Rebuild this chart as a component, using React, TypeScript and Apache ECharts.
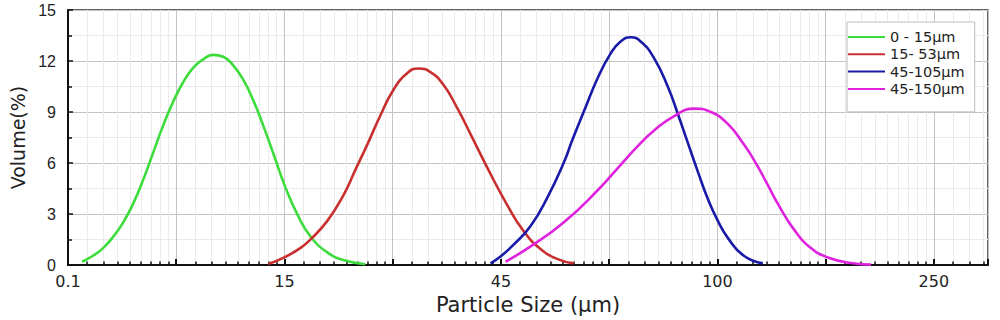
import React, { useEffect, useRef } from "react";
import * as echarts from "echarts";

// x positions are given in axis steps (one step = one major grid interval)
const TICK_LABELS = ["0.1", "15", "45", "100", "250"]; // at steps 0,2,4,6,8
const X_STEPS_MAX = 8.5;
const BASE = 2.8;

const fineX = [0.13, 0.231, 0.324, 0.416, 0.509, 0.601, 0.694, 0.786, 0.879, 0.971, 1.064, 1.156, 1.249, 1.341, 1.434, 1.526, 1.619, 1.711, 1.804, 1.906, 2.007, 2.118, 2.239, 2.396, 2.544, 2.747];
const fineY = [0.2, 0.55, 1.0, 1.65, 2.5, 3.6, 5.0, 6.6, 8.2, 9.6, 10.75, 11.6, 12.1, 12.36, 12.25, 11.75, 10.9, 9.7, 8.2, 6.4, 4.6, 3.0, 1.7, 0.75, 0.3, 0.05];

const midX = [1.85, 1.989, 2.146, 2.239, 2.396, 2.544, 2.655, 2.766, 2.886, 3.006, 3.136, 3.238, 3.349, 3.469, 3.599, 3.719, 3.876, 4.061, 4.209, 4.366, 4.524, 4.672];
const midY = [0.06, 0.42, 1.0, 1.5, 2.6, 4.1, 5.6, 7.1, 8.8, 10.3, 11.3, 11.56, 11.35, 10.6, 9.2, 7.7, 5.7, 3.5, 2.0, 0.95, 0.35, 0.1];

const coarseX = [3.904, 3.996, 4.117, 4.274, 4.431, 4.579, 4.662, 4.764, 4.894, 5.014, 5.106, 5.199, 5.291, 5.412, 5.541, 5.634, 5.726, 5.819, 5.911, 6.004, 6.096, 6.244, 6.42];
const coarseY = [0.1, 0.5, 1.2, 2.3, 4.0, 6.0, 7.4, 9.0, 11.0, 12.45, 13.15, 13.4, 13.15, 12.2, 10.5, 8.9, 7.2, 5.5, 3.9, 2.6, 1.6, 0.55, 0.1];

const wideX = [4.043, 4.274, 4.579, 4.894, 5.106, 5.264, 5.412, 5.597, 5.782, 5.939, 6.096, 6.244, 6.355, 6.466, 6.559, 6.707, 6.864, 7.021, 7.234, 7.419];
const wideY = [0.2, 1.1, 2.5, 4.4, 5.9, 7.0, 7.9, 8.75, 9.2, 9.0, 8.3, 7.1, 6.0, 4.7, 3.6, 2.1, 1.0, 0.45, 0.12, 0.03];

const SERIES_NAMES = ["0 - 15μm", "15- 53μm", "45-105μm", "45-150μm"];
const COLORS = ["#3ddc3d", "#c83030", "#1a1aa8", "#de22de"];

const FONT = "DejaVu Sans";

function toPairs(xs: number[], ys: number[]) {
  return xs.map((x, i) => [Math.pow(BASE, x), ys[i]]);
}

export default function App() {
  const ref = useRef<HTMLDivElement>(null);
  useEffect(() => {
    if (!ref.current) return;
    const chart = echarts.init(ref.current, undefined, { renderer: "svg" });
    const datasets = [
      toPairs(fineX, fineY),
      toPairs(midX, midY),
      toPairs(coarseX, coarseY),
      toPairs(wideX, wideY),
    ];
    chart.setOption({
      animation: false,
      backgroundColor: "#fff",
      grid: {
        left: 68,
        right: 12,
        top: 10,
        bottom: 48,
        show: true,
        borderColor: "#333",
        borderWidth: 1.5,
        backgroundColor: "transparent",
      },
      legend: {
        orient: "vertical",
        left: 847,
        top: 22,
        icon: "rect",
        itemWidth: 37,
        itemHeight: 2,
        itemGap: 1.3,
        padding: [7, 10, 15, 1],
        backgroundColor: "#fff",
        borderColor: "#bbb",
        borderWidth: 1,
        textStyle: { fontFamily: FONT, fontSize: 14.5, lineHeight: 16, color: "#222" },
        data: SERIES_NAMES,
      },
      xAxis: {
        type: "log",
        logBase: BASE,
        min: 1,
        max: Math.pow(BASE, X_STEPS_MAX),
        name: "Particle Size (μm)",
        nameLocation: "middle",
        nameGap: 24,
        nameTextStyle: { fontFamily: FONT, fontSize: 21, color: "#222" },
        axisLine: { show: true, lineStyle: { color: "#111", width: 2 } },
        axisTick: { show: true, inside: true, length: 6, lineStyle: { color: "#111", width: 2 } },
        minorTick: { show: true, splitNumber: 9, length: 3.5, lineStyle: { color: "#111", width: 1.5 } },
        splitLine: { show: true, lineStyle: { color: "#c4c4c4", width: 1 } },
        minorSplitLine: { show: true, lineStyle: { color: "#ebebeb", width: 1 } },
        axisLabel: {
          fontFamily: FONT,
          fontSize: 16,
          color: "#222",
          margin: 8,
          interval: 0,
          formatter: (v: number) => {
            const step = Math.round(Math.log(v) / Math.log(BASE));
            return step % 2 === 0 && TICK_LABELS[step / 2] !== undefined ? TICK_LABELS[step / 2] : "";
          },
        },
      },
      yAxis: {
        type: "value",
        min: 0,
        max: 15,
        interval: 3,
        name: "Volume(%)",
        nameLocation: "middle",
        nameGap: 40,
        nameTextStyle: { fontFamily: FONT, fontSize: 19, color: "#222" },
        axisLine: { show: true, lineStyle: { color: "#111", width: 2 } },
        axisTick: { show: true, inside: true, length: 5, lineStyle: { color: "#111", width: 1.5 } },
        minorTick: { show: true, splitNumber: 2, length: 4, lineStyle: { color: "#111", width: 1.5 } },
        splitLine: { show: true, lineStyle: { color: "#c4c4c4", width: 1 } },
        minorSplitLine: { show: true, lineStyle: { color: "#ebebeb", width: 1 } },
        axisLabel: { fontFamily: "Liberation Sans", fontSize: 16, color: "#222", margin: 12 },
      },
      series: SERIES_NAMES.map((name, i) => ({
        name,
        type: "line",
        smooth: 0.5,
        symbol: "none",
        data: datasets[i],
        lineStyle: { color: COLORS[i], width: 2.6 },
        itemStyle: { color: COLORS[i] },
      })),
    });
    return () => chart.dispose();
  }, []);
  return <div ref={ref} style={{ width: 1000, height: 320, position: "absolute", left: 0, top: 0 }} />;
}
